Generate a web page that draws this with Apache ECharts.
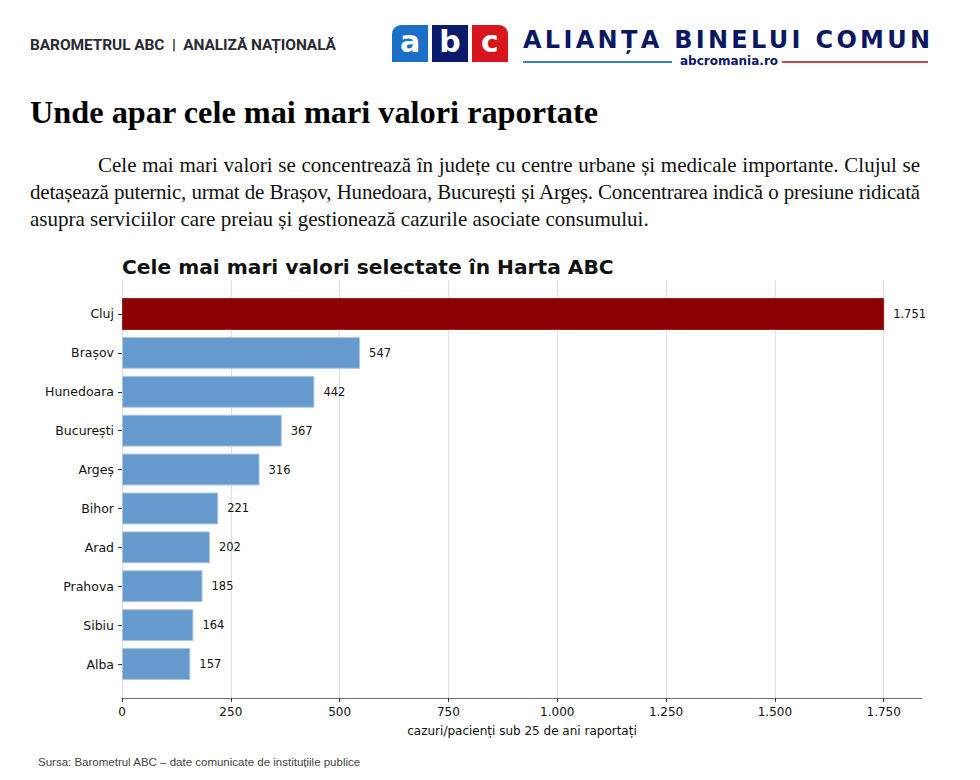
<!DOCTYPE html>
<html>
<head>
<meta charset="utf-8">
<script src="https://cdn.jsdelivr.net/npm/echarts@6/dist/echarts.min.js"></script>
<style>
  html,body{margin:0;padding:0;background:#fff;width:980px;height:780px;overflow:hidden;}
  #wrap{position:relative;width:980px;height:780px;}
  .hdr{position:absolute;left:30px;top:36px;font-family:"Roboto",sans-serif;font-weight:700;font-size:15.5px;color:#2a2a35;letter-spacing:-0.1px;white-space:nowrap;}
  .logo{position:absolute;top:25px;width:36px;height:37px;color:#fff;font-family:"DejaVu Sans",sans-serif;font-weight:700;font-size:30px;line-height:34px;text-align:center;}
  .brand{position:absolute;left:523px;top:26px;font-family:"DejaVu Sans",sans-serif;font-weight:700;font-size:24px;letter-spacing:3.3px;color:#0b1763;white-space:nowrap;}
  .site{position:absolute;left:680px;top:54px;font-family:"DejaVu Sans",sans-serif;font-weight:700;font-size:12px;color:#0b1763;white-space:nowrap;}
  .ln{position:absolute;height:2px;top:61px;}
  h1{position:absolute;left:30px;top:94px;margin:0;font-family:"Liberation Serif",serif;font-weight:700;font-size:32.3px;color:#000;white-space:nowrap;}
  .para{position:absolute;left:30px;top:152px;width:890px;font-family:"Liberation Serif",serif;font-size:21px;line-height:27px;color:#111;}
  .para div{white-space:nowrap;}
  .j{text-align:justify;text-align-last:justify;}
  #chart{position:absolute;left:0;top:0;width:980px;height:780px;}
  .src{position:absolute;left:38px;top:756px;font-family:"Liberation Sans",sans-serif;font-size:11.5px;color:#444;white-space:nowrap;}
</style>
</head>
<body>
<div id="wrap">
  <div id="chart"></div>
  <div class="hdr">BAROMETRUL ABC &nbsp;|&nbsp; ANALIZĂ NAȚIONALĂ</div>
  <div class="logo" style="left:392px;background:#1b6fc6;border-top-left-radius:9px;">a</div>
  <div class="logo" style="left:432px;background:#0c1a6c;">b</div>
  <div class="logo" style="left:472px;background:#d8141c;border-top-right-radius:9px;">c</div>
  <div class="brand">ALIANȚA BINELUI COMUN</div>
  <div class="ln" style="left:523px;width:149px;background:#3f7fc0;"></div>
  <div class="site">abcromania.ro</div>
  <div class="ln" style="left:782px;width:146px;background:#c8474a;"></div>
  <h1>Unde apar cele mai mari valori raportate</h1>
  <div class="para">
    <div class="j fit" style="padding-left:68px;"><span>Cele mai mari valori se concentrează în județe cu centre urbane și medicale importante. Clujul se</span></div>
    <div class="j fit"><span>detașează puternic, urmat de Brașov, Hunedoara, București și Argeș. Concentrarea indică o presiune ridicată</span></div>
    <div>asupra serviciilor care preiau și gestionează cazurile asociate consumului.</div>
  </div>
  <div class="src">Sursa: Barometrul ABC – date comunicate de instituțiile publice</div>
</div>
<script>
// squeeze justified lines that are naturally longer than the column
document.querySelectorAll('.fit').forEach(function(d){
  var s=d.querySelector('span');
  var avail=d.clientWidth-parseFloat(getComputedStyle(d).paddingLeft);
  var ls=0;
  while(s.getBoundingClientRect().width>avail && ls>-2){ls-=0.1;d.style.letterSpacing=ls+'px';}
});

const categories = ["Cluj","Brașov","Hunedoara","București","Argeș","Bihor","Arad","Prahova","Sibiu","Alba"];
const values = [1751,547,442,367,316,221,202,185,164,157];
const xTicks = [0,250,500,750,1000,1250,1500,1750];
const highlight = "Cluj";

function fmt(v){return String(v).replace(/\B(?=(\d{3})+(?!\d))/g,'.');}

const chart = echarts.init(document.getElementById('chart'), null, {renderer:'svg'});
const XMAX = 1838;
chart.setOption({
  animation:false,
  title:{text:'Cele mai mari valori selectate în Harta ABC',left:117,top:252,
    textStyle:{fontFamily:'DejaVu Sans',fontWeight:'bold',fontSize:20.2,color:'#111'}},
  grid:[
    {left:122,right:58,top:280,bottom:82},
    {left:122,right:58,top:294.55,bottom:96.55}
  ],
  xAxis:[
    {gridIndex:0,type:'value',min:0,max:XMAX,
     splitLine:{show:true,lineStyle:{color:'#dcdde9',width:1}},
     axisLine:{show:true,lineStyle:{color:'#6b6f80',width:1}},
     axisTick:{show:true,length:4,customValues:xTicks,lineStyle:{color:'#333'}},
     axisLabel:{color:'#111',fontFamily:'DejaVu Sans',fontSize:12,margin:8,customValues:xTicks,
       formatter:function(v){return fmt(v);}},
     name:'cazuri/pacienți sub 25 de ani raportați',nameLocation:'middle',nameGap:27,
     nameTextStyle:{color:'#111',fontFamily:'DejaVu Sans',fontSize:12}},
    {gridIndex:1,type:'value',min:0,max:XMAX,show:false,splitLine:{show:false}}
  ],
  yAxis:[
    {gridIndex:0,type:'category',data:categories,show:false},
    {gridIndex:1,type:'category',data:categories,inverse:true,
     axisLine:{show:false},
     axisTick:{show:true,alignWithLabel:true,length:4,lineStyle:{color:'#333'}},
     axisLabel:{color:'#111',fontFamily:'DejaVu Sans',fontSize:12.5,margin:8}}
  ],
  series:[{
    type:'bar',xAxisIndex:1,yAxisIndex:1,barWidth:'82%',
    data:values.map((v,i)=>({value:v,itemStyle:{
      color:categories[i]===highlight?'#8b0000':'#6699cc',
      borderColor:categories[i]===highlight?'#9a1a1a':'#a9c6e6',borderWidth:1}})),
    label:{show:true,position:'right',distance:9,color:'#111',fontFamily:'DejaVu Sans',fontSize:11.5,
      formatter:p=>fmt(p.value)}
  }]
});
</script>
</body>
</html>
